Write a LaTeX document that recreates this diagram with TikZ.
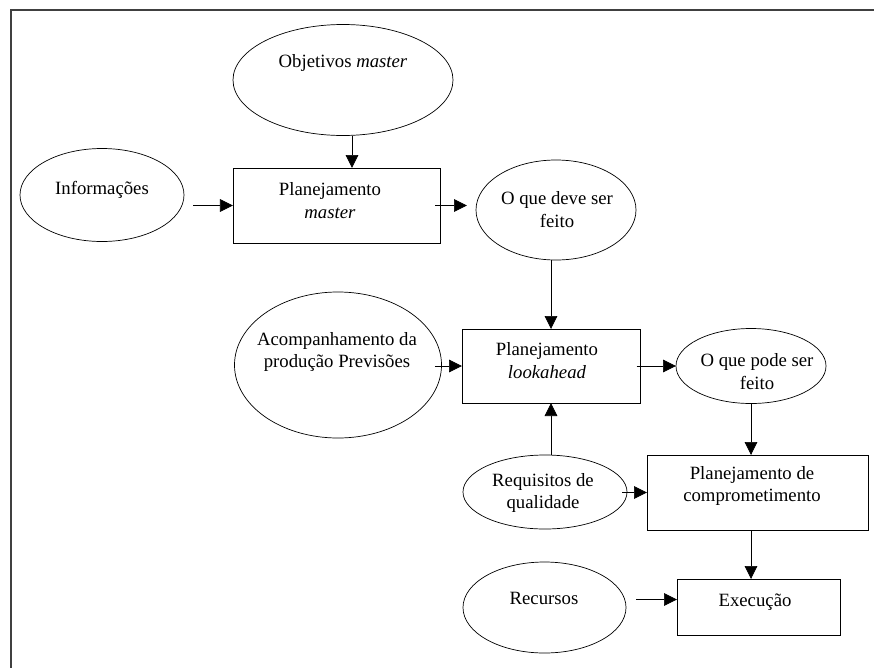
\documentclass[tikz,border=0pt]{standalone}
\usepackage{fontspec}
\setmainfont{Liberation Serif}
\usetikzlibrary{arrows.meta, shapes.geometric}

\begin{document}
\begin{tikzpicture}[x=0.03cm, y=-0.03cm,
  oval/.style = {draw, ellipse, inner sep=0pt, outer sep=0pt, line width=0.6pt},
  caixa/.style = {draw, rectangle, inner sep=0pt, outer sep=0pt, line width=0.8pt},
  rotulo/.style = {align=center, inner sep=0pt, font=\fontsize{16}{19.5}\selectfont},
  seta/.style = {-{Triangle[length=0.39cm, width=0.38cm]}, line width=0.6pt}]
\useasboundingbox (0,0) rectangle (874,668);
\draw[line width=1.6pt, black!75] (874,10) -- (11,10) -- (11,668); % frame

% ovals
\node[oval, minimum width=6.6cm, minimum height=3.33cm] (obj) at (343,80) {}; % objetivos
\node[rotulo] (objtxt) at (343,63) {Objetivos \textit{master}};
\node[oval, minimum width=4.92cm, minimum height=2.79cm] (info) at (102,195) {}; % informacoes
\node[rotulo] (infotxt) at (102,190) {Informações};
\node[oval, minimum width=4.8cm, minimum height=3cm] (deve) at (556,210) {}; % o que deve
\node[rotulo] (devetxt) at (557,210) {O que deve ser\\feito};
\node[oval, minimum width=6.21cm, minimum height=4.38cm] (acomp) at (338,365) {}; % acompanhamento
\node[rotulo] (acomptxt) at (337,352) {Acompanhamento da\\produção Previsões};
\node[oval, minimum width=4.5cm, minimum height=2.25cm] (pode) at (751,366) {}; % o que pode
\node[rotulo] (podetxt) at (757,372) {O que pode ser\\feito};
\node[oval, minimum width=4.92cm, minimum height=2.22cm] (req) at (545,492) {}; % requisitos
\node[rotulo] (reqtxt) at (543,493) {Requisitos de\\qualidade};
\node[oval, minimum width=4.89cm, minimum height=2.73cm] (rec) at (544.5,607.5) {}; % recursos
\node[rotulo] (rectxt) at (544,598) {Recursos};

% boxes
\node[caixa, minimum width=6.21cm, minimum height=2.25cm] (master) at (336.5,205.5) {}; % planejamento master
\node[rotulo] (mastertxt) at (330,201) {Planejamento\\\textit{master}};
\node[caixa, minimum width=5.34cm, minimum height=2.22cm] (look) at (551,366) {}; % lookahead
\node[rotulo] (looktxt) at (547,360.5) {Planejamento\\\textit{lookahead}};
\node[caixa, minimum width=6.63cm, minimum height=2.25cm] (comp) at (757.5,492.5) {}; % comprometimento
\node[rotulo] (comptxt) at (752,486) {Planejamento de\\comprometimento};
\node[caixa, minimum width=4.89cm, minimum height=1.68cm] (exec) at (758.5,607) {}; % execucao
\node[rotulo] (exectxt) at (755,602) {Execução};

% arrows
\draw[seta] ([shift={(9,0)}]obj.south) -- ([shift={(9,0)}]obj.south |- master.north); % objetivos -> master
\draw[seta, shorten <=0.27cm] (info.east |- master.west) -- (master.west); % informacoes -> master
\draw[seta, shorten <=-0.15cm, shorten >=0.27cm] (master.east) -- (master.east -| deve.west); % master -> deve
\draw[seta] (look.north |- deve.south) -- (look.north); % deve -> lookahead
\draw[seta, shorten <=-0.2cm] (acomp.east |- look.west) -- (look.west); % acompanhamento -> lookahead
\draw[seta, shorten <=-0.1cm] (look.east) -- (look.east -| pode.west); % lookahead -> pode
\draw[seta] (pode.south) -- (pode.south |- comp.north); % pode -> comprometimento
\draw[seta] (look.south |- req.north) -- (look.south); % requisitos -> lookahead
\draw[seta, shorten <=-0.15cm] (req.east |- comp.west) -- (comp.west); % requisitos -> comprometimento
\draw[seta] (pode.south |- comp.south) -- (pode.south |- exec.north); % comprometimento -> execucao
\draw[seta, shorten <=0.3cm] ([shift={(0,-8)}]rec.east) -- ([shift={(0,-8)}]rec.east -| exec.west); % recursos -> execucao

\end{tikzpicture}
\end{document}
